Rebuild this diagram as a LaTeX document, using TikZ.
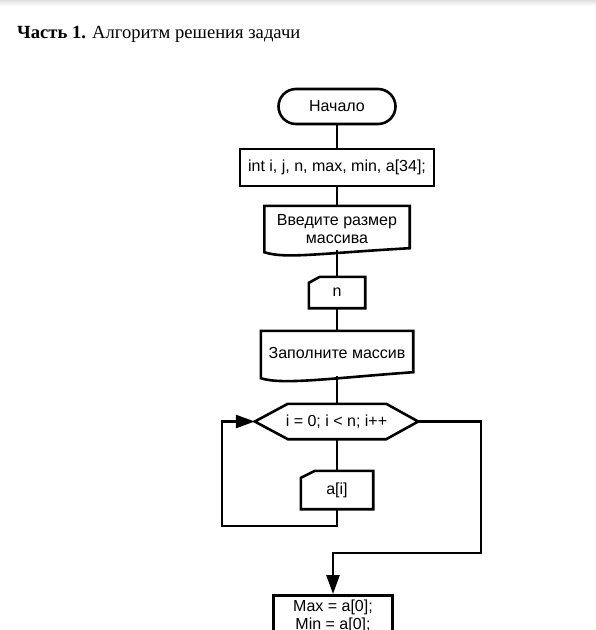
\documentclass[tikz,border=0pt]{standalone}
\usepackage{fontspec}
\setmainfont{Liberation Serif}
\newfontfamily\arial{Liberation Sans}
\usetikzlibrary{shapes.misc,arrows.meta,calc}
\begin{document}
\begin{tikzpicture}[x=1pt,y=-1pt,
  ln/.style={line width=2.6pt, line join=miter},
  box/.style={draw, ln, rectangle, inner sep=0pt},
  txt/.style={font=\arial\fontsize{16}{17.5}\selectfont, align=center, inner sep=0pt},
  term/.style={draw, ln, rounded rectangle, inner sep=0pt},
  arr/.style={ln, -{Triangle[length=19pt,width=13pt]}}
]
\useasboundingbox (0,0) rectangle (596,630);
\clip (0,0) rectangle (596,630);
\shade[top color=black!12, bottom color=white] (0,0) rectangle (596,6);

\node[anchor=base west, inner sep=0pt, font=\fontsize{18.6}{22}\selectfont] (title) at (17,38) {\textbf{Часть 1.} Алгоритм решения задачи};

% nodes
\node[term, txt, minimum width=117pt, minimum height=35pt] (start) at (337,106.5) {Начало};
\node[box, txt, minimum width=194pt, minimum height=37pt] (decl) at (337,167.5) {int i, j, n, max, min, a[34];};
\node[txt, minimum width=145pt, minimum height=46pt] (doc1) at (337,229) {Введите размер\\массива};
\node[txt, minimum width=56pt, minimum height=31pt] (n) at (337,292.5) {n};
\node[txt, minimum width=152pt, minimum height=47pt] (doc2) at (337,354.5) {\raisebox{2.5pt}{Заполните массив}};
\node[txt, minimum width=163pt, minimum height=35pt] (hex) at (336.5,421.5) {i = 0; i < n; i++};
\node[txt, minimum width=72pt, minimum height=38pt] (ai) at (337,490) {a[i]};
\node[box, minimum width=119pt, minimum height=70pt, anchor=north] (mx) at (333,594) {};
\node[txt, font=\arial\fontsize{16}{18}\selectfont] (mxt) at (333,616) {Max = a[0];\\Min = a[0];};

% shapes
\draw[ln] (doc1.north west) -- (doc1.north east) -- ([yshift=4pt]doc1.south east)
  .. controls ([xshift=-89pt,yshift=-1pt]doc1.south east) and ([xshift=21pt,yshift=-7pt]doc1.south west) .. (doc1.south west) -- cycle;
\draw[ln] (doc2.north west) -- (doc2.north east) -- ([yshift=6pt]doc2.south east)
  .. controls ([xshift=-83pt,yshift=0pt]doc2.south east) and ([xshift=22pt,yshift=-7pt]doc2.south west) .. (doc2.south west) -- cycle;
\draw[ln] (n.south west) -- ([yshift=-6pt]n.north west) -- ([xshift=11pt]n.north west) -- (n.north east) -- (n.south east) -- cycle;
\draw[ln] (ai.south west) -- ([yshift=-7pt]ai.north west) -- ([xshift=14pt]ai.north west) -- (ai.north east) -- (ai.south east) -- cycle;
\draw[ln] (hex.west) -- ([xshift=33pt]hex.north west) -- ([xshift=-32pt]hex.north east) -- (hex.east)
  -- ([xshift=-32pt]hex.south east) -- ([xshift=33pt]hex.south west) -- cycle;

% connectors
\coordinate (loopL) at (222,526);
\coordinate (rgt) at (481,553);
\draw[ln] (start.south) -- (decl.north);
\draw[ln] (decl.south) -- (doc1.north);
\draw[ln] ([yshift=2pt]doc1.south) -- (n.north);
\draw[ln] (n.south) -- (doc2.north);
\draw[ln] ([yshift=2pt]doc2.south) -- (doc2.south |- hex.north);
\draw[ln] (ai.north |- hex.south) -- (ai.north);
\draw[arr] (ai.south) |- (loopL) |- (hex.west);
\draw[arr] (hex.east) -| (rgt) -| (mx.north);
\end{tikzpicture}
\end{document}
